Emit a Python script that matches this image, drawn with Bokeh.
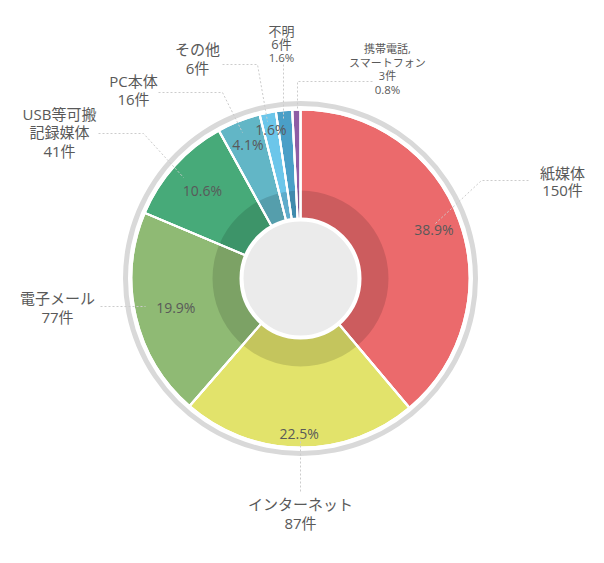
import math
from bokeh.plotting import figure
from bokeh.models import Range1d, ColumnDataSource
from bokeh.core.properties import value
from bokeh.embed import file_html
from bokeh.resources import INLINE

# ---------------- data ----------------
categories = ["紙媒体", "インターネット", "電子メール", "USB等可搬記録媒体",
              "PC本体", "その他", "不明", "携帯電話,スマートフォン"]
counts = [150, 87, 77, 41, 16, 6, 6, 3]
name_lines = [["紙媒体"], ["インターネット"], ["電子メール"], ["USB等可搬", "記録媒体"],
              ["PC本体"], ["その他"], ["不明"], ["携帯電話,", "スマートフォン"]]
colors = ["#EB6A6C", "#E2E36B", "#8FBA74", "#47AA79",
          "#62B6C6", "#6CC6EA", "#4A9FC7", "#8E5DA5"]
# which categories show percentage inside the wedge (others show it in the outer label)
pct_inside = [True, True, True, True, True, True, False, False]

# ---------------- layout (screen px of the 604x563 picture) ----------------
CX, CY = 300, 278
def D(sx, sy):
    return sx - CX, CY - sy

pct_radius = [142, 155, 128, 132, 144, 152, 150, 150]
label_x = [562, 300, 57, 59, 133, 197, 281, 387]
label_top = [172, 503, 297, 113, 80, 48, 30, 48]
label_step = [17.5, 19, 19, 18.5, 18, 19, 13.5, 13.7]
label_small = [False, False, False, False, False, False, True, True]
leaders = [
    [(435, 223), (481, 180), (528, 180)],
    [(300, 441), (300, 492)],
    [(100, 306), (145, 306)],
    [(98, 133), (143, 133), (183, 177)],
    [(158, 92), (222, 92), (242, 132)],
    [(222, 64), (257, 64), (267, 121)],
    [(283, 64), (283, 119)],
    [(372, 81), (297, 81), (297, 109)],
]

FONT = value("Open Sans, Noto Sans CJK JP")
TXT = "#595959"

total = sum(counts)
pcts = [c / total * 100 for c in counts]
starts, ends, mids = [], [], []
cum = 0
for c in counts:
    a0 = cum / total
    cum += c
    a1 = cum / total
    starts.append(math.pi / 2 - 2 * math.pi * a0)
    ends.append(math.pi / 2 - 2 * math.pi * a1)
    mids.append(2 * math.pi * (a0 + a1) / 2)

W, H = 588, 547
p = figure(width=W, height=H, output_backend="svg", toolbar_location=None,
           x_range=Range1d(-CX, W - CX), y_range=Range1d(CY - H, CY),
           min_border=0, outline_line_color=None, background_fill_color="white")
p.axis.visible = False
p.xgrid.visible = False
p.ygrid.visible = False

src = ColumnDataSource(dict(start=starts, end=ends, color=colors))

# outer gray ring
p.annulus(x=0, y=0, inner_radius=172.5, outer_radius=177.5,
          fill_color="#D9D9D9", line_color=None)
# wedges
p.annular_wedge(x=0, y=0, inner_radius=50, outer_radius=169, start_angle="start",
                end_angle="end", direction="clock", fill_color="color",
                line_color="white", line_width=2, source=src)
# dark inner band
p.annulus(x=0, y=0, inner_radius=55, outer_radius=88, fill_color="black",
          fill_alpha=0.13, line_color=None)
# separators over the band
p.annular_wedge(x=0, y=0, inner_radius=50, outer_radius=169, start_angle="start",
                end_angle="end", direction="clock", fill_alpha=0,
                line_color="white", line_width=2, source=src)
# center circle
p.circle(x=0, y=0, radius=59, fill_color="#EBEBEB", line_color="white", line_width=4)

# leader lines
for pts in leaders:
    xs = [D(*q)[0] for q in pts]
    ys = [D(*q)[1] for q in pts]
    p.line(xs, ys, line_color="#CCCCCC", line_width=1, line_dash="2 2")

# percentage labels inside
for i in range(len(counts)):
    if not pct_inside[i]:
        continue
    r = pct_radius[i]
    x = r * math.sin(mids[i])
    y = r * math.cos(mids[i])
    p.text(x=[x], y=[y], text=[f"{pcts[i]:.1f}%"], text_align="center",
           text_baseline="middle", text_font=FONT, text_font_size="14px",
           text_color=TXT)

# outer labels
for i in range(len(counts)):
    lines = list(name_lines[i]) + [f"{counts[i]}件"]
    if label_small[i]:
        big = "13px" if len(name_lines[i]) == 1 else "11px"
        sizes = [big] * len(lines)
    else:
        sizes = ["15px"] * len(lines)
    if not pct_inside[i]:
        lines.append(f"{pcts[i]:.1f}%")
        sizes.append("11.5px")
    for k, (t, fs) in enumerate(zip(lines, sizes)):
        sx = label_x[i]
        sy = label_top[i] + k * label_step[i]
        x, y = D(sx, sy)
        p.text(x=[x], y=[y], text=[t], text_align="center", text_baseline="middle",
               text_font=FONT, text_font_size=fs, text_color=TXT)

open("out.html", "w").write(file_html(p, INLINE))
